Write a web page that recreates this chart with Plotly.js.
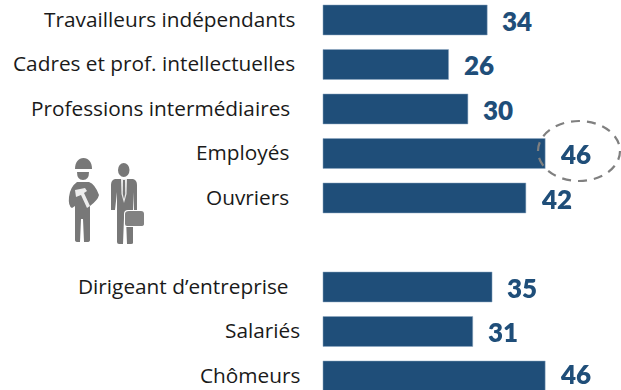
<!DOCTYPE html>
<html><head><meta charset="utf-8">
<script src="https://cdn.plot.ly/plotly-3.0.0.min.js"></script>
<style>html,body{margin:0;padding:0;background:#fff;overflow:hidden}#c{width:621px;height:390px}.shapelayer{filter:blur(0.5px)}</style>
</head><body><div id="c"></div>
<script>
const categories = ["Travailleurs indépendants","Cadres et prof. intellectuelles","Professions intermédiaires","Employés","Ouvriers"," ","Dirigeant d’entreprise","Salariés","Chômeurs"];
const values = [34,26,30,46,42,null,35,31,46];
const labelRight = [297,297,292,291,291,null,291,302,302];
const BLUE = "#1F4E79", GREY = "#787878", TXT = "#1a1a1a", LIGHT = "#ececec";

const annotations = [];
categories.forEach((c,i)=>{
  if(values[i]===null) return;
  annotations.push({xref:"x2",yref:"y",x:labelRight[i],y:c,text:c,showarrow:false,xanchor:"right",yanchor:"middle",yshift:1,
    font:{family:"Open Sans",size:20.8,color:TXT}});
  annotations.push({xref:"x",yref:"y",x:values[i],y:c,text:String(values[i]),showarrow:false,xanchor:"left",yanchor:"middle",xshift:13,yshift:i===8?2:-1,
    font:{family:"Lato",size:26,color:BLUE,weight:800}});
});

const path = (d,color)=>({type:"path",xref:"x2",yref:"y2",path:d,fillcolor:color,line:{width:0},layer:"above"});
const shapes = [
  {type:"circle",xref:"x2",yref:"y2",x0:538,y0:121,x1:620,y1:181,line:{color:"#808080",width:2.2,dash:"9px,7px"},fillcolor:"rgba(0,0,0,0)",layer:"above"},
  // worker
  path("M75,169 C75,162 78.500,158 83.500,158 C88.500,158 92,162 92,169 Z",GREY),
  path("M77,172 L89,172 Q89,180 83,180 Q77,180 77,172 Z",GREY),
  path("M77,182 L89,182 Q95,184 99,195 Q98,200 90,206 L90,240 Q90,242 87,242 L84,242 L83,219 L81,219 L80,242 L78,242 Q75,242 75,240 L75,206 L72,208 Q68,206 69,197 Q70,187 77,182 Z",GREY),
  path("M75,190 L85,188 L87,191 L84,193 L90,206 L87,208 L81,195 L76,197 Z",LIGHT),
  // manager
  {type:"circle",xref:"x2",yref:"y2",x0:118,y0:163,x1:129.5,y1:177,fillcolor:GREY,line:{width:0},layer:"above"},
  path("M115,179 L133,179 Q137,180 137,185 L137,210 L134,210 L133,192 L133,243 Q133,244 131,244 L127,244 L126,218 L124,218 L123,244 L119,244 Q117,244 117,242 L117,192 L115,210 L111,210 L111,185 Q111,180 115,179 Z",GREY),
  path("M121,179 L127,179 L126.500,194 L124,203 L121.500,194 Z",LIGHT),
  path("M123,180 L125,180 L125.200,194 L124,199 L122.800,194 Z",GREY),
  path("M128,210 L141,210 Q145,210 145,214 L145,224 Q145,227 141,227 L126,227 Q124,227 124,224 L124,214 Q124,210 128,210 Z","#ffffff"),
  path("M129,211 L141,211 Q144,211 144,214 L144,224 Q144,226 141,226 L127,226 Q125,226 125,224 L125,214 Q125,211 129,211 Z","#828282"),
];

Plotly.newPlot("c",[{
  type:"bar",orientation:"h",y:categories,x:values,
  marker:{color:BLUE,line:{color:"#8fa9c2",width:0.5}},hoverinfo:"skip",cliponaxis:true
},{
  type:"scatter",x:[0],y:[0],xaxis:"x2",yaxis:"y2",mode:"none",hoverinfo:"skip",showlegend:false
}],{
  width:621,height:390,margin:{l:0,r:0,t:0,b:0},paper_bgcolor:"#fff",plot_bgcolor:"#fff",showlegend:false,
  bargap:0.326,
  xaxis:{range:[-66.87,61.7],visible:false,fixedrange:true},
  yaxis:{type:"category",categoryorder:"array",categoryarray:categories,range:[8.315,-0.449],visible:false,fixedrange:true},
  xaxis2:{range:[0,621],visible:false,overlaying:"x",fixedrange:true},
  yaxis2:{range:[390,0],visible:false,overlaying:"y",fixedrange:true},
  annotations,shapes
},{displayModeBar:false,staticPlot:true});
</script></body></html>
